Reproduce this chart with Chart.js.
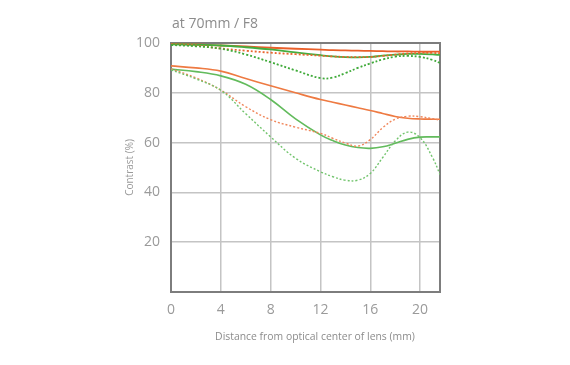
<!DOCTYPE html>
<html>
<head>
<meta charset="utf-8">
<script src="https://cdn.jsdelivr.net/npm/chart.js@4.4.1/dist/chart.umd.min.js"></script>
<style>
  html, body { margin: 0; padding: 0; background: #fff; }
  #wrap { position: relative; width: 570px; height: 365px; }
  #chart { position: absolute; left: 0; top: 0; }
  .lbl { position: absolute; font-family: 'Open Sans', sans-serif; color: #8c8c8c; white-space: nowrap; }
  #title { left: 172px; top: 13px; font-size: 14px; }
  #xtitle { left: 315px; top: 329px; font-size: 10.4px; transform: translateX(-50%); }
</style>
</head>
<body>
<div id="wrap">
  <canvas id="chart" width="570" height="365"></canvas>
  <div class="lbl" id="title">at 70mm / F8</div>
  <div class="lbl" id="xtitle">Distance from optical center of lens (mm)</div>
</div>
<script>
const FONT  = "'Open Sans', sans-serif";
const MUTED = '#9a9a9a';
const GRID  = '#c4c4c4';
const FRAME = '#7d7d7d';

// mm from the optical centre
const POSITIONS = [0, 2, 4, 6, 8, 10, 12, 13, 14, 15, 16, 17, 18, 19, 20, 21, 21.6];

// 10 lp/mm
const orange10Solid  = [99.6, 99.4, 99.0, 98.6, 98.1, 97.7, 97.3, 97.1, 97.0, 96.9, 96.8, 96.7, 96.6, 96.6, 96.5, 96.5, 96.5];
const orange10Dotted = [99.5, 99.0, 97.8, 96.9, 96.1, 95.5, 94.9, 94.6, 94.4, 94.3, 94.4, 94.8, 95.3, 95.8, 96.0, 96.0, 95.9];
const green10Solid   = [99.5, 99.3, 99.0, 98.3, 97.4, 96.2, 95.1, 94.6, 94.3, 94.2, 94.4, 94.9, 95.3, 95.6, 95.6, 95.4, 95.2];
const green10Dotted  = [99.2, 98.7, 97.7, 95.4, 92.3, 89.0, 85.9, 86.1, 87.9, 90.0, 91.8, 93.4, 94.5, 94.8, 94.4, 93.2, 92.0];

// 30 lp/mm
const orange30Solid  = [90.8, 90.0, 88.7, 85.7, 82.8, 80.0, 77.3, 76.2, 75.1, 74.0, 72.9, 71.7, 70.5, 69.8, 69.5, 69.4, 69.4];
const orange30Dotted = [89.6, 86.0, 81.1, 74.4, 69.2, 66.2, 63.7, 61.7, 59.8, 58.6, 61.2, 66.0, 69.4, 70.6, 70.4, 69.6, 69.0];
const green30Solid   = [89.5, 88.5, 86.8, 83.4, 77.3, 69.5, 63.1, 60.8, 59.0, 58.0, 57.7, 58.3, 59.7, 61.3, 62.2, 62.3, 62.3];
const green30Dotted  = [89.2, 85.6, 81.0, 71.6, 62.3, 53.7, 48.3, 46.3, 44.9, 44.9, 47.6, 54.0, 60.6, 64.2, 62.0, 54.0, 47.2];

const Y_TICKS = [20, 40, 60, 80, 100];
const X_TICKS = [0, 4, 8, 12, 16, 20];

function series(values, color, dotted, width) {
  return {
    data: POSITIONS.map((x, i) => ({ x, y: values[i] })),
    borderColor: color,
    backgroundColor: 'transparent',
    borderWidth: width,
    borderDash: dotted ? [2, 2] : [],
    pointRadius: 0,
    tension: 0.4,
    fill: false,
  };
}

const datasets = [
  series(green30Dotted,  '#72c46d', true,  1.4),
  series(orange30Dotted, '#f0865a', true,  1.4),
  series(green30Solid,   '#62bb5c', false, 1.6),
  series(orange30Solid,  '#ee7a42', false, 1.6),
  series(green10Dotted,  '#3faa39', true,  1.8),
  series(orange10Dotted, '#e9672f', true,  1.8),
  series(green10Solid,   '#45ad3f', false, 1.8),
  series(orange10Solid,  '#e95f2a', false, 1.8),
];

new Chart(document.getElementById('chart'), {
  type: 'line',
  data: { datasets },
  options: {
    responsive: false,
    animation: false,
    layout: { padding: { left: 124, top: 43, right: 130, bottom: 0 } },
    plugins: { legend: { display: false }, tooltip: { enabled: false } },
    scales: {
      x: {
        type: 'linear',
        min: 0,
        max: 21.6,
        afterFit: s => { s.height = 365 - 292; },
        afterBuildTicks: s => { s.ticks = X_TICKS.map(v => ({ value: v })); },
        ticks: { color: MUTED, font: { family: FONT, size: 14 }, padding: 10, maxRotation: 0 },
        grid: { color: c => (c.tick && c.tick.value === 0 ? 'transparent' : GRID), lineWidth: 1.5, drawTicks: false },
        border: { color: FRAME, width: 2 },
      },
      y: {
        min: 0,
        max: 100,
        afterFit: s => { s.width = 171 - 124; },
        afterBuildTicks: s => { s.ticks = Y_TICKS.map(v => ({ value: v })); },
        ticks: { color: MUTED, font: { family: FONT, size: 14 }, padding: 11 },
        grid: { color: c => (c.tick && c.tick.value === 100 ? FRAME : GRID), lineWidth: c => (c.tick && c.tick.value === 100 ? 2 : 1.5), drawTicks: false },
        border: { color: FRAME, width: 2 },
        title: { display: true, text: 'Contrast (%)', color: MUTED, font: { family: FONT, size: 10 }, padding: { top: 0, bottom: 0 } },
      },
      yRight: {
        position: 'right',
        min: 0,
        max: 100,
        afterFit: s => { s.width = 0; },
        ticks: { display: false },
        grid: { display: false, drawTicks: false },
        border: { color: FRAME, width: 2 },
      },
    },
  },
});
</script>
</body>
</html>
